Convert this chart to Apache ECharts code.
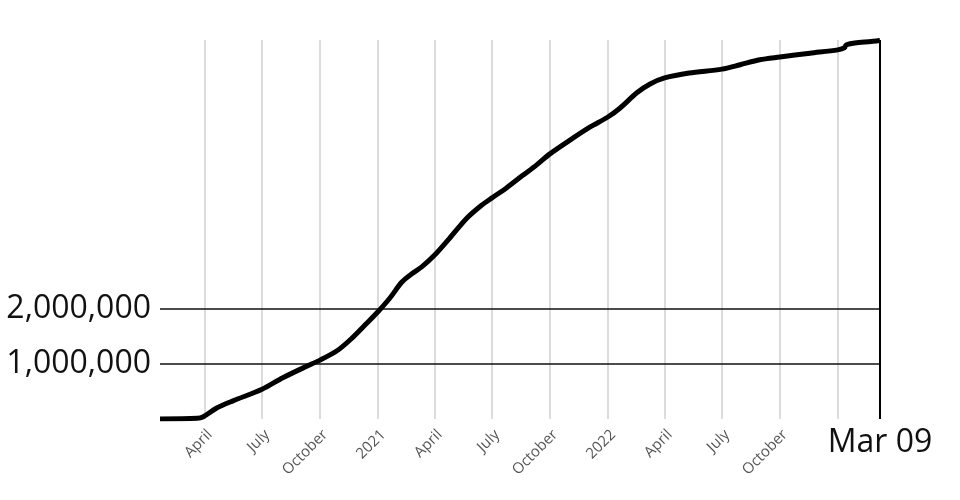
<!DOCTYPE html>
<html>
<head>
<meta charset="utf-8">
<script src="https://cdn.jsdelivr.net/npm/echarts@6/dist/echarts.min.js"></script>
<style>
html,body{margin:0;padding:0;background:#fff;}
#chart{width:960px;height:500px;}
</style>
</head>
<body>
<div id="chart"></div>
<script>
const dates = ['2020-01-21','2020-03-20','2020-03-29','2020-04-20','2020-05-16','2020-07-01','2020-08-03','2020-09-10','2020-10-01','2020-10-28','2020-11-18','2020-12-15','2021-01-01','2021-01-20','2021-02-08','2021-02-25','2021-03-12','2021-04-01','2021-04-25','2021-05-22','2021-06-15','2021-07-01','2021-07-25','2021-08-19','2021-09-10','2021-10-01','2021-11-07','2021-12-04','2022-01-01','2022-01-20','2022-02-16','2022-03-09','2022-04-01','2022-05-10','2022-07-01','2022-07-30','2022-08-30','2022-10-01','2022-11-18','2023-01-01','2023-01-12','2023-01-14','2023-01-31','2023-03-03','2023-03-09'];
const deaths = [0,12000,36000,200000,330000,540000,750000,960000,1070000,1240000,1440000,1750000,1950000,2200000,2490000,2650000,2770000,2980000,3290000,3650000,3890000,4020000,4210000,4430000,4620000,4820000,5110000,5310000,5490000,5650000,5930000,6090000,6200000,6290000,6360000,6440000,6530000,6580000,6650000,6710000,6750000,6800000,6840000,6870000,6880000];
const yTickLabels = [1000000, 2000000];
const monthNames = ['','','','April','','','July','','','October','',''];
const startDate = '2020-01-21';
const endDate = '2023-03-09';
const endLabel = 'Mar 09';
const yMax = 6890000;

const seriesData = dates.map((d, i) => [d, deaths[i]]);

const chart = echarts.init(document.getElementById('chart'), null, {renderer: 'canvas'});
chart.setOption({
  animation: false,
  backgroundColor: '#fff',
  grid: {left: 160, right: 80, top: 40, bottom: 81, containLabel: false},
  xAxis: {
    type: 'time',
    min: startDate,
    max: endDate,
    minInterval: 80 * 86400000,
    maxInterval: 100 * 86400000,
    axisLine: {show: false},
    axisTick: {show: false},
    splitLine: {show: true, showMinLine: false, showMaxLine: false, lineStyle: {color: '#d0d0d0', width: 1.5}},
    axisLabel: {
      rotate: 45,
      color: '#555',
      fontSize: 15,
      fontFamily: 'Open Sans',
      margin: 8,
      verticalAlign: 'top',
      hideOverlap: false,
      formatter: function (value) {
        const d = new Date(value);
        if (d.getDate() !== 1) return '';
        const m = d.getMonth();
        if (m === 0) {
          const y = d.getFullYear();
          return (y === 2021 || y === 2022) ? String(y) : '';
        }
        return monthNames[m];
      }
    }
  },
  yAxis: {
    type: 'value',
    min: 0,
    max: yMax,
    interval: 1000000,
    axisLine: {show: false},
    axisTick: {show: false},
    splitLine: {show: false},
    axisLabel: {
      color: '#111',
      fontSize: 32,
      fontFamily: 'Open Sans',
      margin: 9,
      formatter: function (v) {
        return yTickLabels.indexOf(v) >= 0 ? v.toLocaleString('en-US') : '';
      }
    }
  },
  series: [{
    type: 'line',
    data: seriesData,
    showSymbol: false,
    smooth: 0.3,
    lineStyle: {color: '#000', width: 5},
    itemStyle: {color: '#000'},
    z: 5,
    markLine: {
      silent: true,
      symbol: 'none',
      z: 3,
      animation: false,
      label: {show: false},
      lineStyle: {color: '#111', width: 1.5, type: 'solid'},
      data: [
        {yAxis: yTickLabels[0]},
        {yAxis: yTickLabels[1]},
        {
          xAxis: endDate,
          lineStyle: {color: '#000', width: 2, type: 'solid'},
          label: {
            show: true,
            position: 'start',
            formatter: endLabel,
            color: '#111',
            fontSize: 32,
            fontFamily: 'Open Sans',
            distance: 8
          }
        }
      ]
    }
  }]
});
</script>
</body>
</html>
